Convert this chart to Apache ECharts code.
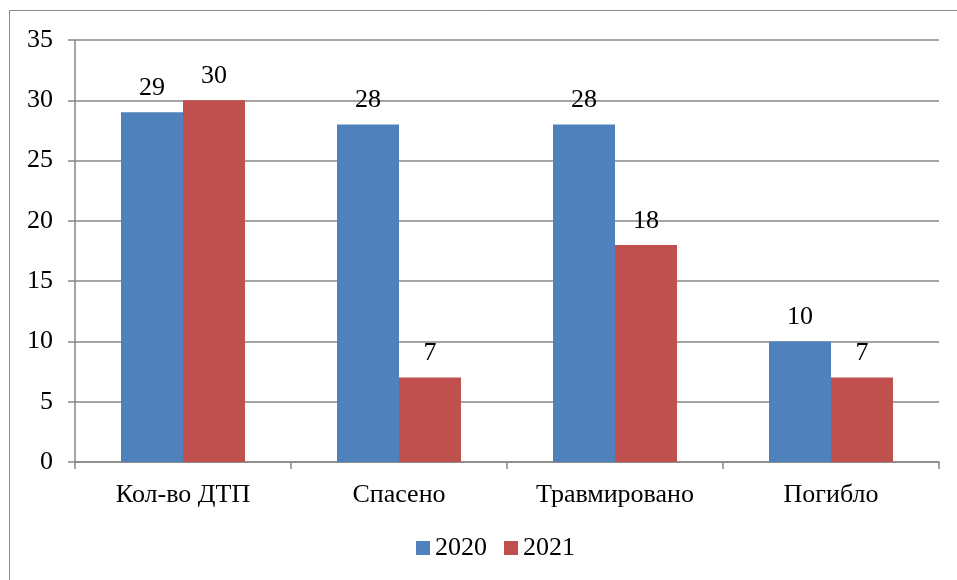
<!DOCTYPE html>
<html><head><meta charset="utf-8">
<script src="https://cdn.jsdelivr.net/npm/echarts@6/dist/echarts.min.js"></script>
<style>html,body{margin:0;padding:0;background:#fff}#c{width:957px;height:580px}</style>
</head><body><div id="c"></div>
<script>
const categories = ['Кол-во ДТП', 'Спасено', 'Травмировано', 'Погибло'];
const series2020 = [29, 28, 28, 10];
const series2021 = [30, 7, 18, 7];
const yTicks = [0, 5, 10, 15, 20, 25, 30, 35];
const font = '"Liberation Serif", "Times New Roman", serif';
const chart = echarts.init(document.getElementById('c'), null, {renderer: 'canvas'});
chart.setOption({
  animation: false,
  textStyle: {fontFamily: font},
  graphic: [{type: 'rect', shape: {x: 9.5, y: 10.5, width: 1000, height: 1000}, style: {fill: 'none', stroke: '#8a8a8a', lineWidth: 1}}],
  grid: {left: 75, right: 18, top: 40, bottom: 118},
  legend: {bottom: 14, left: 411, itemWidth: 14, itemHeight: 14, itemGap: 17,
    textStyle: {fontFamily: font, fontSize: 26, color: '#000'}, icon: 'rect',
    data: ['2020', '2021']},
  xAxis: {type: 'category', data: categories,
    axisLine: {lineStyle: {color: '#878787', width: 1.5}},
    axisTick: {show: true, length: 7, lineStyle: {color: '#878787', width: 1.5}},
    axisLabel: {fontFamily: font, fontSize: 26, color: '#000', margin: 20}},
  yAxis: {type: 'value', min: yTicks[0], max: yTicks[yTicks.length - 1], interval: 5,
    axisLine: {show: true, lineStyle: {color: '#878787', width: 1.5}},
    axisTick: {show: true, length: 7, lineStyle: {color: '#878787', width: 1.5}},
    splitLine: {lineStyle: {color: '#878787', width: 1.5}},
    axisLabel: {fontFamily: font, fontSize: 26, color: '#000', margin: 22}},
  series: [
    {name: '2020', type: 'bar', data: series2020, barGap: '0%', barCategoryGap: '42.6%',
      itemStyle: {color: '#4F81BD'},
      label: {show: true, position: 'top', distance: 11, fontFamily: font, fontSize: 26, color: '#000'}},
    {name: '2021', type: 'bar', data: series2021,
      itemStyle: {color: '#C0504D'},
      label: {show: true, position: 'top', distance: 11, fontFamily: font, fontSize: 26, color: '#000'}}
  ]
});
</script></body></html>
